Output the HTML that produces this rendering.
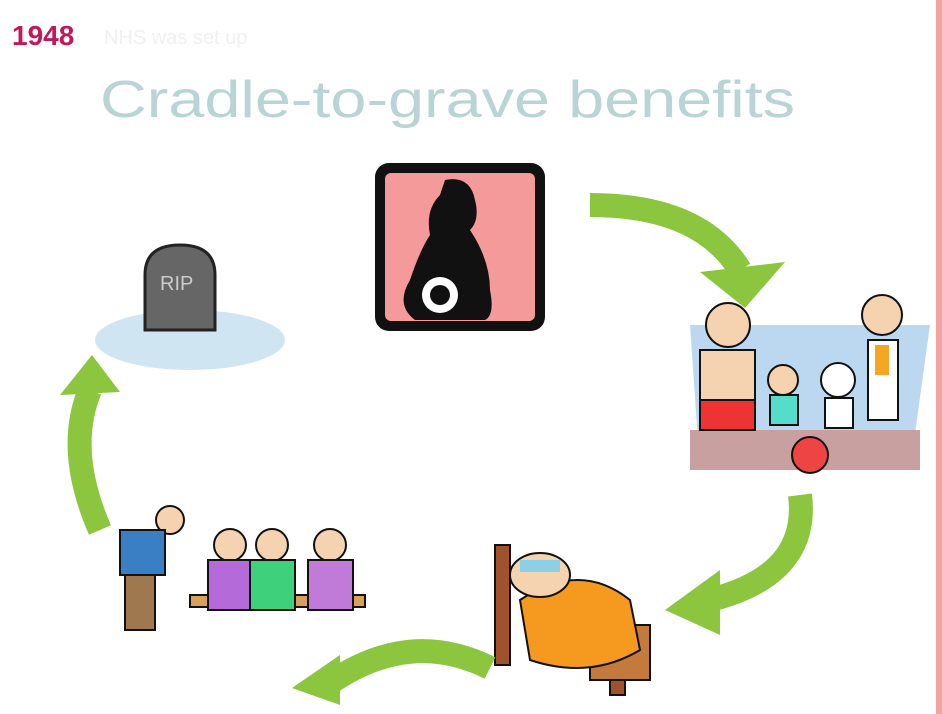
<!DOCTYPE html>
<html><head><meta charset="utf-8"><style>
html,body{margin:0;padding:0;background:#fff;}
svg{display:block}
</style></head><body>
<svg width="942" height="714" viewBox="0 0 942 714">
<rect x="0" y="0" width="942" height="714" fill="#fff"/>
<rect x="936" y="0" width="6" height="714" fill="#f4a3a0"/>
<text x="12" y="45" font-family="Liberation Sans, sans-serif" font-weight="bold" font-size="28" fill="#c2185b">1948</text>
<text x="104" y="44" font-family="Liberation Sans, sans-serif" font-size="20" fill="#f0f0f0">NHS was set up</text>
<text x="100" y="117" font-family="Liberation Sans, sans-serif" font-size="52" fill="#b9d4d4" textLength="695" lengthAdjust="spacingAndGlyphs">Cradle-to-grave benefits</text>

<g>
<rect x="375" y="163" width="170" height="168" rx="14" fill="#111"/>
<rect x="385" y="173" width="150" height="148" rx="6" fill="#f59a9a"/>
<path d="M445 180 q25 -5 30 20 q5 20 -5 30 q20 30 20 60 q5 25 -5 30 h-70 q-20 -15 -5 -40 q10 -30 20 -45 q-5 -25 10 -40z" fill="#111"/>
<circle cx="440" cy="295" r="18" fill="#fff"/>
<circle cx="440" cy="295" r="10" fill="#111"/>
</g>

<g>
<polygon points="690,325 930,325 910,470 700,470" fill="#bcd8f0"/>
<rect x="690" y="430" width="230" height="40" fill="#c9a0a0"/>
<rect x="700" y="350" width="55" height="60" fill="#f5d3b0" stroke="#111" stroke-width="2"/>
<rect x="700" y="400" width="55" height="30" fill="#e33" stroke="#111" stroke-width="2"/>
<circle cx="728" cy="325" r="22" fill="#f5d3b0" stroke="#111" stroke-width="2"/>
<circle cx="783" cy="380" r="15" fill="#f5d3b0" stroke="#111" stroke-width="2"/>
<rect x="770" y="395" width="28" height="30" fill="#5dc" stroke="#111" stroke-width="2"/>
<circle cx="838" cy="380" r="17" fill="#fff" stroke="#111" stroke-width="2"/>
<rect x="825" y="398" width="28" height="30" fill="#fff" stroke="#111" stroke-width="2"/>
<circle cx="882" cy="315" r="20" fill="#f5d3b0" stroke="#111" stroke-width="2"/>
<rect x="868" y="340" width="30" height="80" fill="#fff" stroke="#111" stroke-width="2"/>
<rect x="875" y="345" width="14" height="30" fill="#f5a623"/>
<circle cx="810" cy="455" r="18" fill="#e44" stroke="#111" stroke-width="2"/>
</g>

<g>
<ellipse cx="190" cy="340" rx="95" ry="30" fill="#cfe6f2"/>
<path d="M145 330 v-55 q0 -30 35 -30 q35 0 35 30 v55z" fill="#666" stroke="#222" stroke-width="3"/>
<text x="160" y="290" font-family="Liberation Sans, sans-serif" font-size="20" fill="#ccc">RIP</text>
</g>

<g>
<rect x="495" y="545" width="15" height="120" fill="#a0522d" stroke="#111" stroke-width="2"/>
<rect x="610" y="615" width="15" height="80" fill="#a0522d" stroke="#111" stroke-width="2"/>
<rect x="590" y="625" width="60" height="55" fill="#c47a3a" stroke="#111" stroke-width="2"/>
<path d="M520 600 q60 -40 110 0 l10 50 q-50 30 -110 10z" fill="#f59a1e" stroke="#111" stroke-width="2"/>
<ellipse cx="540" cy="575" rx="30" ry="22" fill="#f5d3b0" stroke="#111" stroke-width="2"/>
<rect x="520" y="560" width="40" height="12" fill="#8ecfe8"/>
</g>

<g>
<rect x="190" y="595" width="175" height="12" fill="#d9a05a" stroke="#111" stroke-width="2"/>
<circle cx="170" cy="520" r="14" fill="#f5d3b0" stroke="#111" stroke-width="2"/>
<rect x="120" y="530" width="45" height="45" fill="#3a7fc4" stroke="#111" stroke-width="2"/>
<rect x="125" y="575" width="30" height="55" fill="#a07850" stroke="#111" stroke-width="2"/>
<circle cx="230" cy="545" r="16" fill="#f5d3b0" stroke="#111" stroke-width="2"/>
<rect x="208" y="560" width="42" height="50" fill="#b46ad8" stroke="#111" stroke-width="2"/>
<circle cx="272" cy="545" r="16" fill="#f5d3b0" stroke="#111" stroke-width="2"/>
<rect x="250" y="560" width="45" height="50" fill="#3ed07a" stroke="#111" stroke-width="2"/>
<circle cx="330" cy="545" r="16" fill="#f5d3b0" stroke="#111" stroke-width="2"/>
<rect x="308" y="560" width="45" height="50" fill="#c07ad8" stroke="#111" stroke-width="2"/>
</g>

<g fill="none" stroke="#8cc63f" stroke-width="24">
<path d="M590 205 q110 0 150 65"/>
<path d="M800 495 q10 80 -90 105"/>
<path d="M490 668 q-80 -40 -160 15"/>
<path d="M100 530 q-35 -80 -10 -140"/>
</g>
<g fill="#8cc63f">
<polygon points="700,272 785,262 745,308"/>
<polygon points="720,570 720,635 665,610"/>
<polygon points="340,655 340,705 292,688"/>
<polygon points="60,395 120,392 92,355"/>
</g>
</svg>
</body></html>
